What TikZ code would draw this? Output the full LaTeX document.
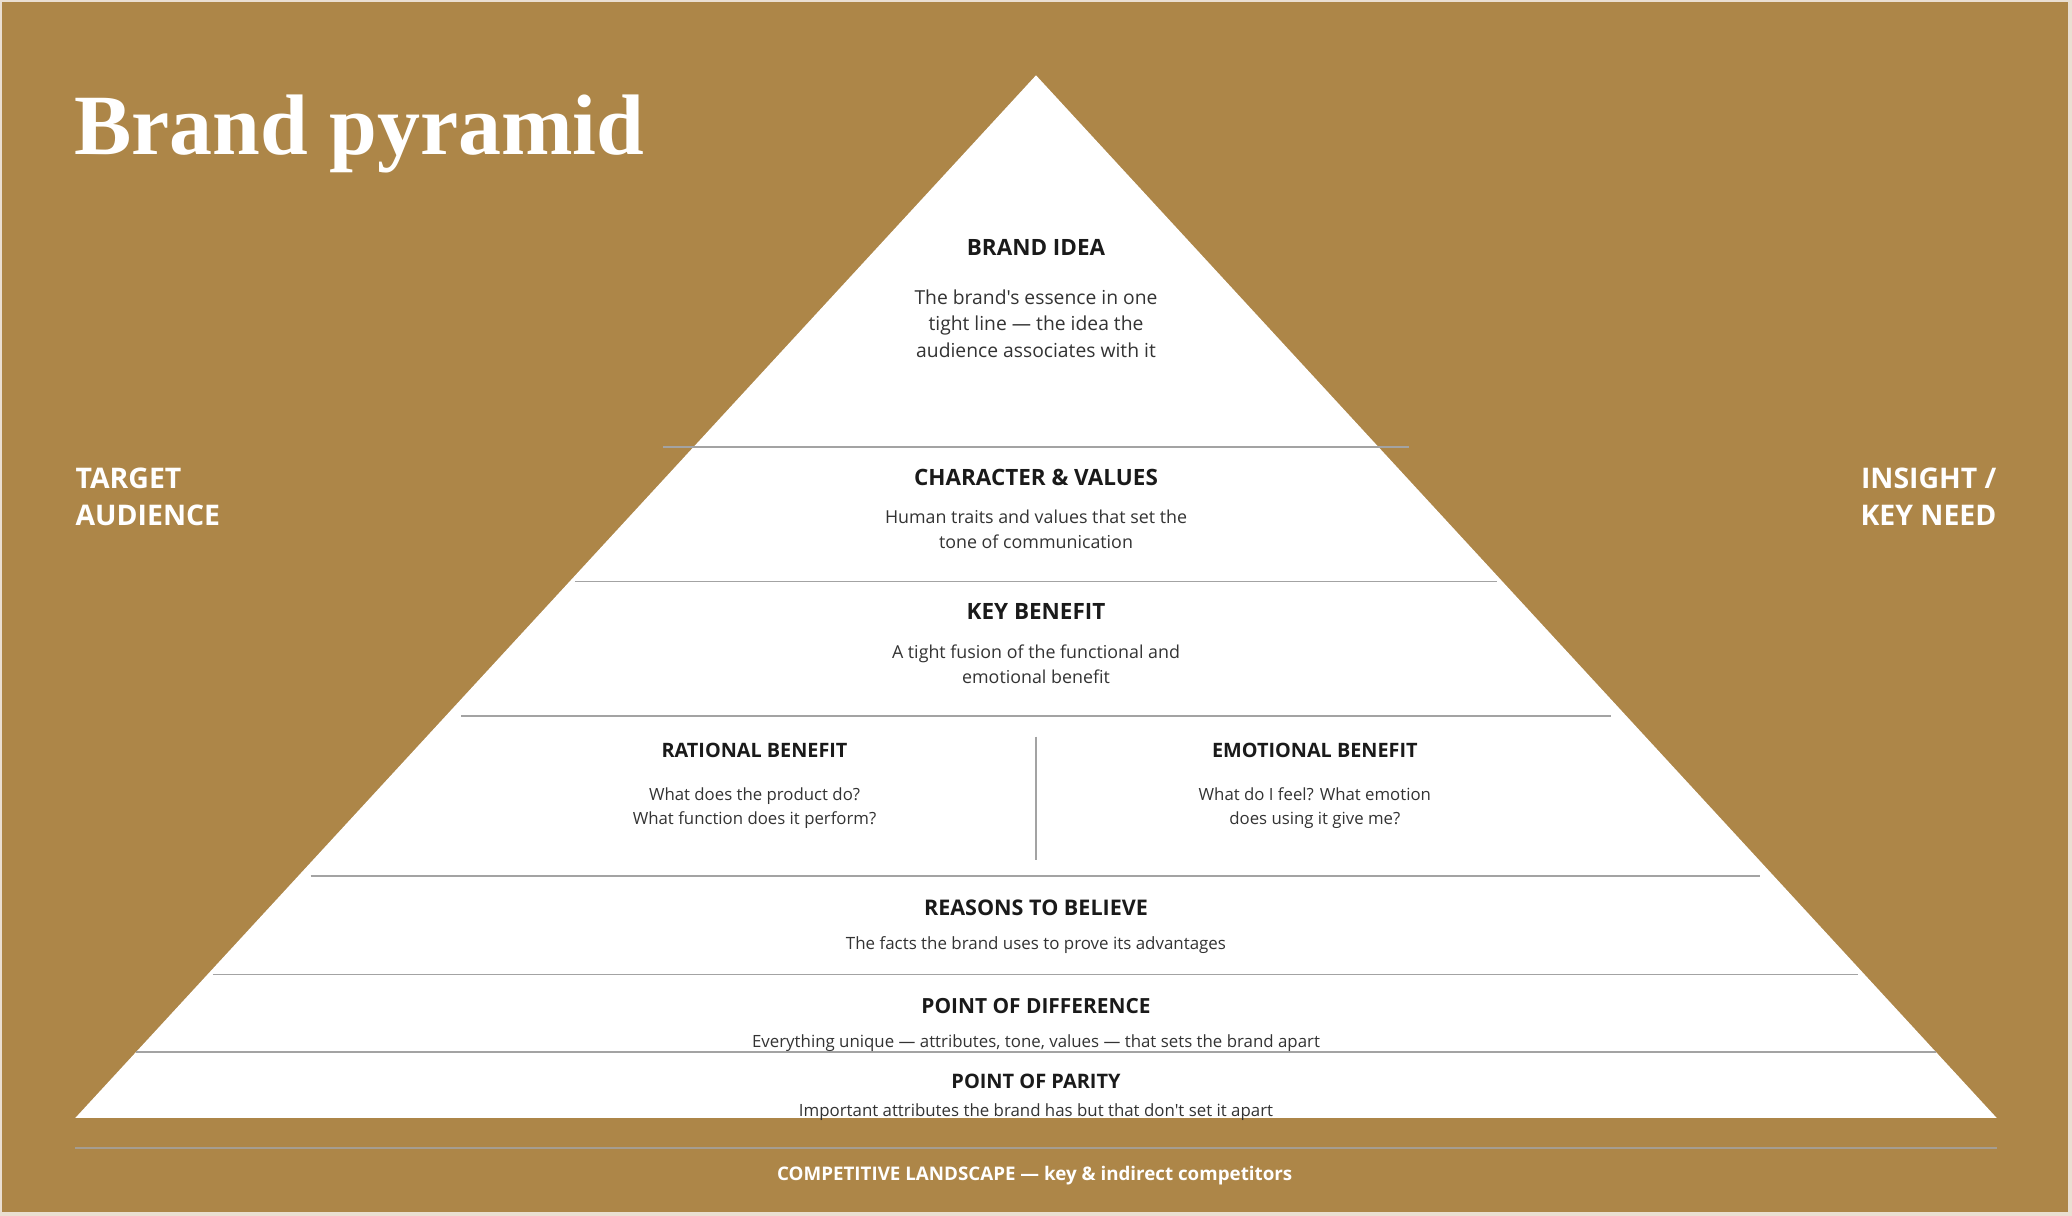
\documentclass[tikz,border=0pt]{standalone}
\usepackage{fontspec}
\setmainfont{Open Sans}[Ligatures=TeXOff]
\newfontfamily\titlefont{Liberation Serif}
\definecolor{gold}{HTML}{AD8648}
\definecolor{edge}{HTML}{EADFD2}
\definecolor{headc}{HTML}{1A1A1A}
\definecolor{bodyc}{HTML}{333333}
\definecolor{linec}{HTML}{A3A3A3}
\tikzset{
  head/.style={font=\bfseries\fontsize{#1}{20}\selectfont, text=headc, inner sep=0pt},
  head/.default=17,
  bodytxt/.style n args={2}{font=\fontsize{#1}{#2}\selectfont, text=bodyc, align=center, inner sep=0pt},
  sidelabel/.style={font=\bfseries\fontsize{21.5}{28}\selectfont, text=white, inner sep=0pt},
  divider/.style={draw=linec, line width=1.3pt},
}
\begin{document}
\begin{tikzpicture}[x=1pt,y=-1pt]
\useasboundingbox (0,0) rectangle (1568,920.2);
\fill[edge] (0,0) rectangle (1568,920.2);
\fill[gold] (1.5,1.5) rectangle (1565,917.5);
% pyramid
\fill[white] (784,57) -- (1511,846) -- (57,846) -- cycle;
% dividers
\draw[divider] (502,338) -- (1066,338);
\draw[divider] (435,440) -- (1133,440);
\draw[divider] (349,542) -- (1219,542);
\draw[divider] (235,663) -- (1332,663);
\draw[divider] (161,737.5) -- (1406,737.5);
\draw[divider] (103,796) -- (1465,796);
\draw[divider] (784,557.5) -- (784,651);
\draw[draw=linec!80!gold, line width=1.3pt] (57,868.5) -- (1511,868.5);
% title
\node[anchor=base west, inner sep=0pt, text=white, font=\titlefont\bfseries\fontsize{65}{70}\selectfont] (title) at (56,117) {Brand pyramid};
% side labels
\node[sidelabel, anchor=base west, align=left] (target) at (57,397.5) {TARGET\\AUDIENCE};
\node[sidelabel, anchor=base east, align=right] (insight) at (1511,397.5) {INSIGHT /\\KEY NEED};
% layers
\node[head] (ideaH) at (784,187) {BRAND IDEA};
\node[bodytxt={14.6}{20}] (ideaB) at (784,245) {The brand's essence in one\\tight line — the idea the\\audience associates with it};
\node[head] (charH) at (784,361) {CHARACTER \& VALUES};
\node[bodytxt={13.5}{19}] (charB) at (784,400.5) {Human traits and values that set the\\tone of communication};
\node[head] (keyH) at (784,463) {KEY BENEFIT};
\node[bodytxt={13.5}{19}] (keyB) at (784,502.5) {A tight fusion of the functional and\\emotional benefit};
\node[head=15] (ratH) at (571,568) {RATIONAL BENEFIT};
\node[bodytxt={12.7}{18}] (ratB) at (571,611.5) {What does the product do?\\What function does it perform?};
\node[head=15] (emoH) at (995,568) {EMOTIONAL BENEFIT};
\node[bodytxt={12.7}{18}] (emoB) at (995,611.5) {What do I feel? What emotion\\does using it give me?};
\node[head=16.3] (rtbH) at (784,687) {REASONS TO BELIEVE};
\node[bodytxt={12.8}{18}] (rtbB) at (784,715.5) {The facts the brand uses to prove its advantages};
\node[head=15.8] (podH) at (784,761) {POINT OF DIFFERENCE};
\node[bodytxt={12.75}{18}] (podB) at (784,789.5) {Everything unique — attributes, tone, values — that sets the brand apart};
\node[head=15.1] (popH) at (784,818) {POINT OF PARITY};
\node[bodytxt={12.75}{18}] (popB) at (784,841.5) {Important attributes the brand has but that don't set it apart};
% bottom
\node[inner sep=0pt, text=white, font=\bfseries\fontsize{14.2}{16}\selectfont] (comp) at (783,890) {COMPETITIVE LANDSCAPE — key \& indirect competitors};
\end{tikzpicture}
\end{document}
